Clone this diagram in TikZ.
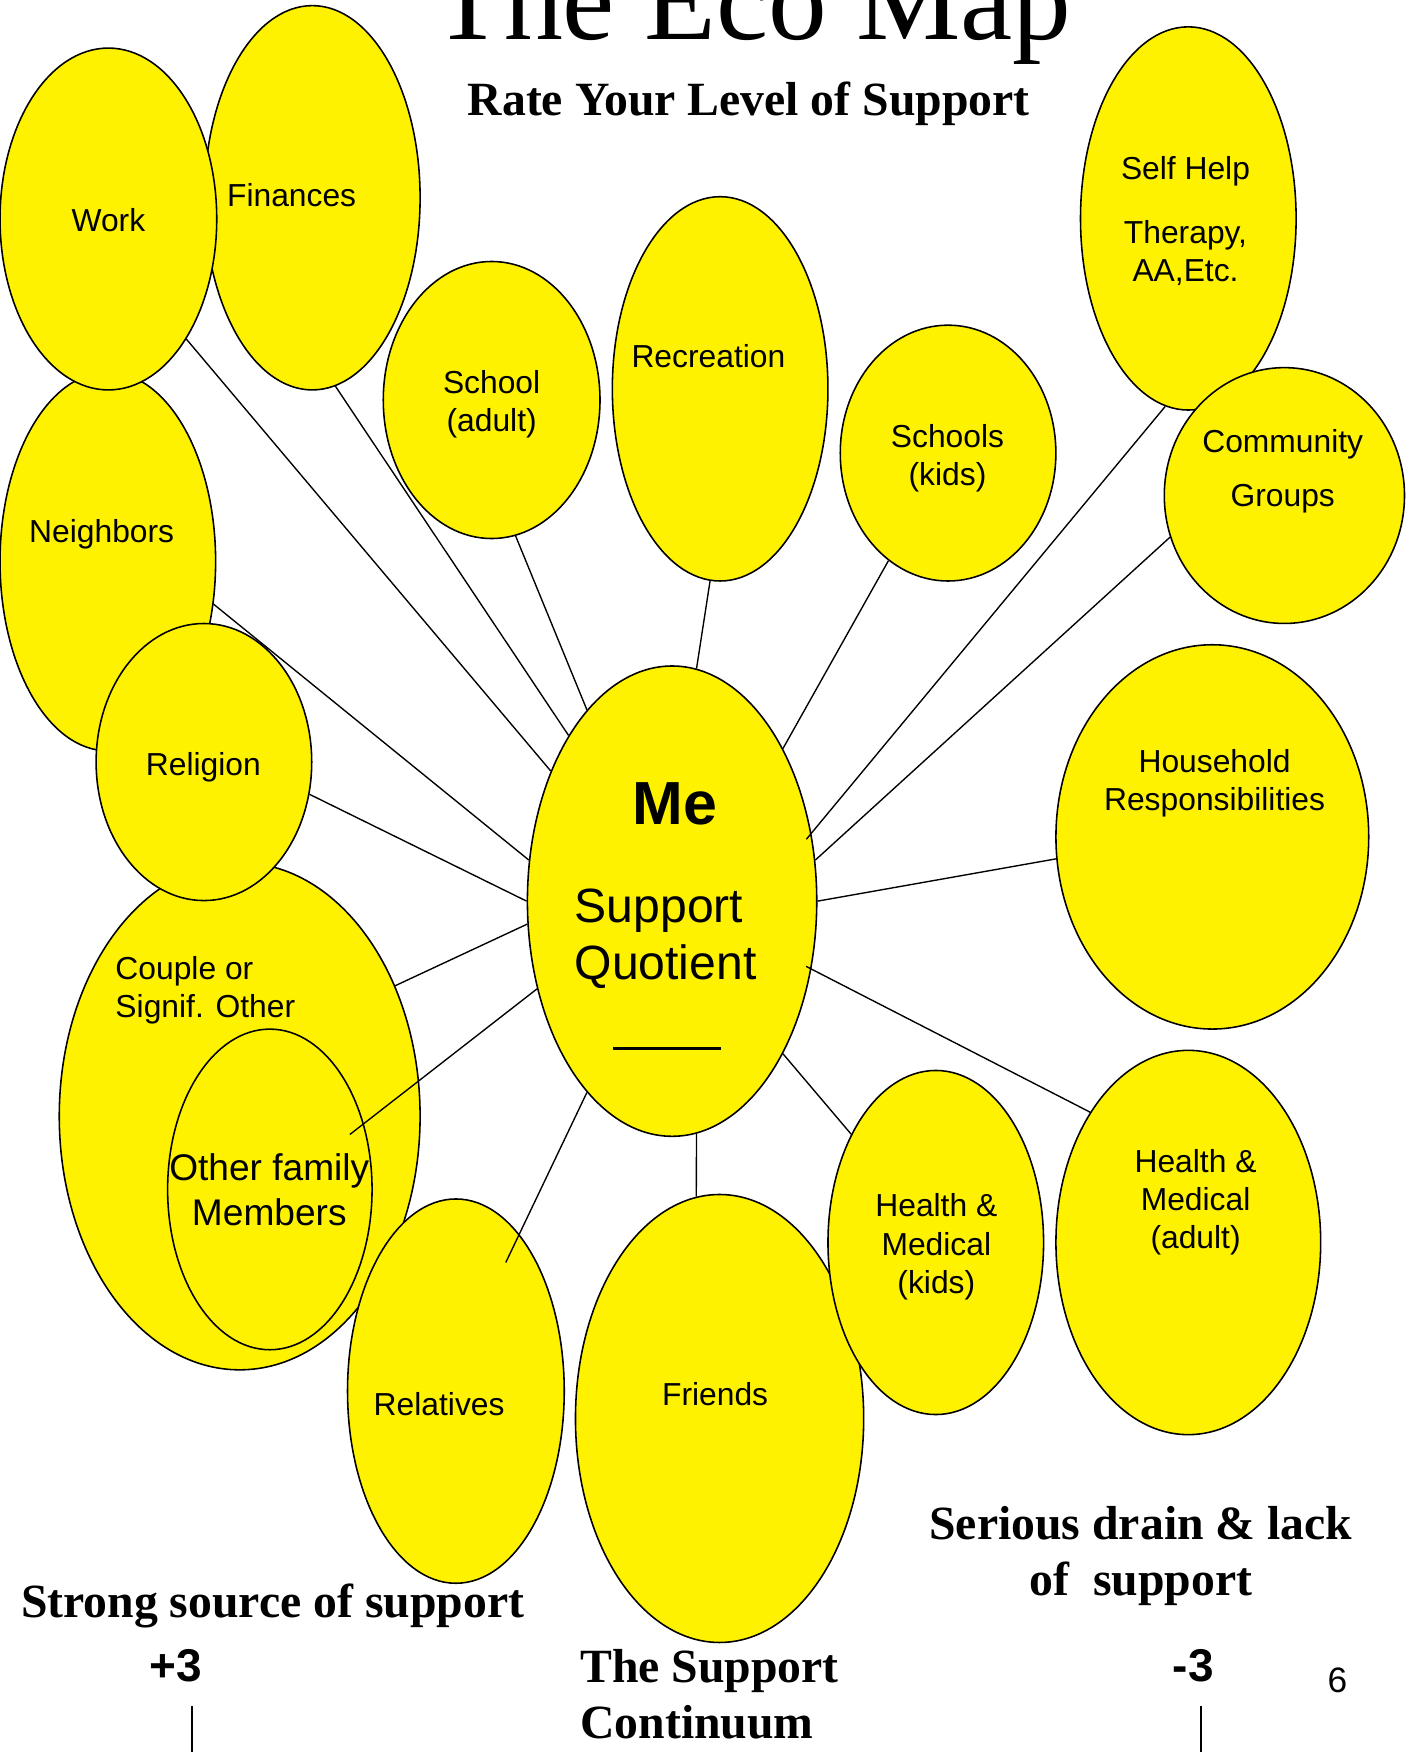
\documentclass[tikz,border=0pt]{standalone}
\usepackage{fontspec}
\setmainfont{Liberation Serif}
\newfontfamily\arialfont{Liberation Sans}
\usetikzlibrary{shapes.geometric}

\begin{document}
\begin{tikzpicture}[x=0.02cm,y=-0.02cm]

		\tikzset{bubble/.style = {shape=ellipse,draw,fill=yellow,line width=0.8pt,inner sep=0pt,minimum width=3.86cm,minimum height=6.88cm}}
		\tikzset{lbl/.style = {font=\arialfont\fontsize{16.2}{19.5}\selectfont,align=center,inner sep=0pt}}
		\tikzset{head/.style = {font=\bfseries\fontsize{24.3}{28.5}\selectfont,align=center,inner sep=0pt}}
		\tikzset{edge/.style = {-,line width=0.7pt}}
		\useasboundingbox (0,0) rectangle (1263,1568);
		%bubbles
		\node[bubble] (Fin) at (279.5,177) {};
		\node[bubble,minimum height=6.78cm] (Nbr) at (96.5,502.5) {};
		\node[bubble,minimum width=3.88cm,minimum height=6.12cm] (Work) at (97,196) {};
		\node[bubble,minimum width=6.46cm,minimum height=9.08cm] (Cpl) at (214.5,999) {};
		\node[bubble,minimum width=3.66cm,minimum height=5.74cm] (Oth) at (241.5,1064.5) {};
		\node[bubble,minimum height=4.96cm] (Relg) at (182.5,682) {};
		\node[bubble,minimum width=3.88cm] (Rel) at (408,1245) {};
		\node[bubble,minimum width=5.16cm,minimum height=8.02cm] (Fri) at (644,1269.5) {};
		\node[bubble,minimum height=6.16cm] (HK) at (837.5,1112) {};
		\node[bubble,minimum width=4.74cm] (HA) at (1063.5,1112) {};
		\node[bubble,minimum width=5.6cm] (House) at (1085,749) {};
		\node[bubble,minimum height=6.86cm] (Self) at (1063.5,195.5) {};
		\node[bubble,minimum width=4.3cm,minimum height=4.58cm] (Comm) at (1149.5,443.5) {};
		\node[bubble,minimum height=4.58cm] (SchK) at (848.5,405.5) {};
		\node[bubble] (Rec) at (644.5,348) {};
		\node[bubble,minimum width=3.88cm,minimum height=4.96cm] (SchA) at (440,358) {};
		\node[bubble,minimum width=5.18cm,minimum height=8.42cm] (Me) at (601.5,806.5) {};
		%labels
		\node[lbl] (tWork) at (97,197) {Work};
		\node[lbl] (tFin) at (261,175) {Finances};
		\node[lbl] (tNbr) at (91,478) {Neighbors};
		\node[lbl] (tRelg) at (182,687) {Religion};
		\node[lbl,align=left,anchor=west] (tCpl) at (103,886) {Couple or\\Signif. Other};
		\node[lbl,font=\arialfont\fontsize{18.9}{22.8}\selectfont] (tOth) at (241,1065) {Other family\\Members};
		\node[lbl] (tRel) at (393,1257) {Relatives};
		\node[lbl] (tFri) at (640,1248) {Friends};
		\node[lbl] (tHK) at (838,1116) {Health \&\\Medical\\(kids)};
		\node[lbl] (tHA) at (1070,1076) {Health \&\\Medical\\(adult)};
		\node[lbl] (tHouse) at (1087,701) {Household\\Responsibilities};
		\node[lbl] (tSelf) at (1061,198) {Self Help\\[13pt]Therapy,\\AA,Etc.};
		\node[lbl] (tComm) at (1148,422) {Community\\[8pt]Groups};
		\node[lbl] (tSchK) at (848,410) {Schools\\(kids)};
		\node[lbl] (tRec) at (634,319) {Recreation};
		\node[lbl] (tSchA) at (440,362) {School\\(adult)};
		\node[lbl,font=\arialfont\bfseries\fontsize{31}{31}\selectfont] (tMe) at (604,719) {Me};
		\node[lbl,align=left,anchor=west,font=\arialfont\fontsize{24.5}{29}\selectfont] (tSQ) at (514,840) {Support\\Quotient};
		\node[inner sep=0pt] (blank) at (597,938) {\rule{1.92cm}{1.6pt}};
		%headings
		\node[inner sep=0pt,anchor=base,font=\fontsize{59.8}{62}\selectfont] (title) at (673,35) {The Eco Map};
		\node[head,anchor=base] (rate) at (670,103) {Rate Your Level of Support};
		\node[head,anchor=base] (strong) at (244,1448) {Strong source of support};
		\node[head] (drain) at (1021,1393) {Serious drain \& lack\\of\ \ support};
		\node[head,align=left,anchor=west] (cont) at (519,1516) {The Support\\Continuum};
		\node[lbl,anchor=base,font=\arialfont\bfseries\fontsize{23.4}{24}\selectfont] (plus) at (157,1505) {+3};
		\node[lbl,anchor=base,font=\arialfont\bfseries\fontsize{23.4}{24}\selectfont] (minus) at (1068,1505) {-3};
		\node[lbl,anchor=base,font=\arialfont\fontsize{18}{20}\selectfont] (page) at (1197,1515) {6};
		%edges
		\draw[edge] (Me.133) to (Work.-57);
		\draw[edge] (Me.122) to (Fin.-83);
		\draw[edge] (Me.114) to (SchA.-80);
		\draw[edge] (Me.84) to (Rec.-93);
		\draw[edge] (Me.54) to (SchK.-119);
		\draw[edge,shorten <=-4pt] (Me.26) to (Self.-97);
		\draw[edge] (Me.16) to (Comm.-160);
		\draw[edge] (Me.0) to (House.-172);
		\draw[edge,shorten <=-3pt] (Me.-26) to (HA.127);
		\draw[edge] (Me.-54) to (HK.128);
		\draw[edge] (Me.-84) to (Fri.96);
		\draw[edge,shorten >=-16pt] (Me.-114) to (Rel.68);
		\draw[edge,shorten >=-9pt] (Me.-147) to (Oth.35);
		\draw[edge] (Me.-171) to (Cpl.40);
		\draw[edge] (Me.180) to (Relg.-17);
		\draw[edge] (Me.164) to (Nbr.-22);
		%scale ticks
		\draw[edge] (172,1527) -- (172,1568);
		\draw[edge] (1075,1527) -- (1075,1568);
\end{tikzpicture}
\end{document}
